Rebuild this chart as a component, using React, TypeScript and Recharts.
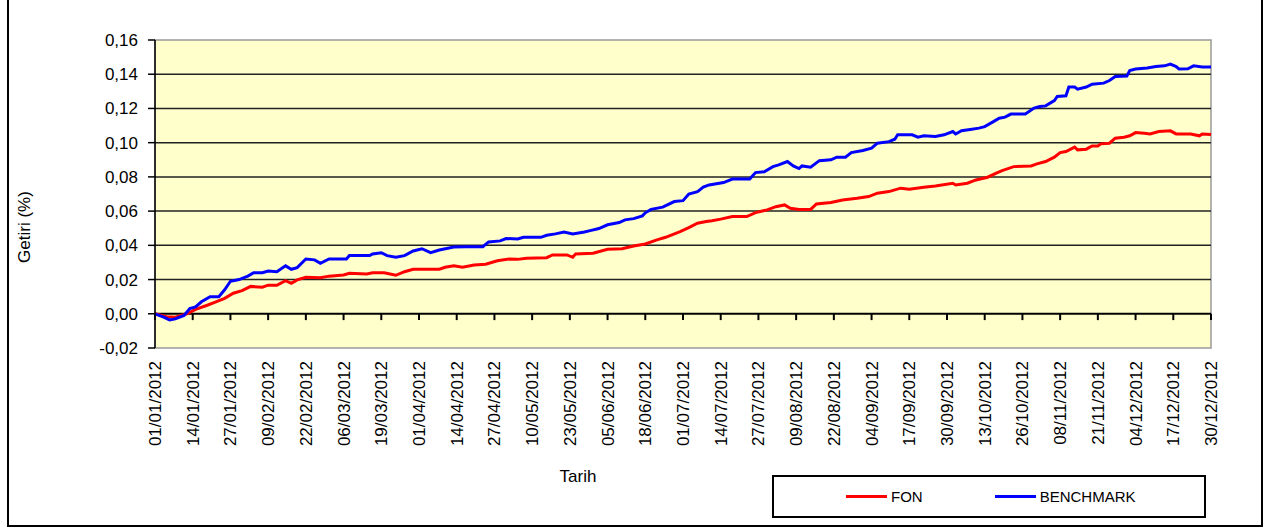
import React from 'react'
import { LineChart, Line, XAxis, YAxis, ReferenceLine, ReferenceArea, Legend } from 'recharts'

// x values are days counted from 01/01/2012
const tickLabels = [
  '01/01/2012', '14/01/2012', '27/01/2012', '09/02/2012', '22/02/2012', '06/03/2012',
  '19/03/2012', '01/04/2012', '14/04/2012', '27/04/2012', '10/05/2012', '23/05/2012',
  '05/06/2012', '18/06/2012', '01/07/2012', '14/07/2012', '27/07/2012', '09/08/2012',
  '22/08/2012', '04/09/2012', '17/09/2012', '30/09/2012', '13/10/2012', '26/10/2012',
  '08/11/2012', '21/11/2012', '04/12/2012', '17/12/2012', '30/12/2012',
]
const tickDays = tickLabels.map((_, i) => i * 13)
const yTicks = [-0.02, 0, 0.02, 0.04, 0.06, 0.08, 0.1, 0.12, 0.14, 0.16]
const gridValues = [0.14, 0.12, 0.1, 0.08, 0.06, 0.04, 0.02]
const seriesNames = ['FON', 'BENCHMARK']

const fonDays = [
  0, 4, 7, 11, 14, 18, 21, 24, 27, 30, 33, 37, 39, 42, 45, 47, 49, 52, 57, 60, 65, 67, 73, 75, 79, 83, 86, 89,
  98, 100, 103, 106, 110, 114, 118, 122, 125, 128, 135, 137, 142, 144, 145, 151, 156, 161, 165, 169, 173, 176,
  181, 184, 187, 190, 192, 195, 199, 204, 207, 211, 214, 217, 219, 222, 226, 228, 233, 237, 242, 246, 249, 253,
  257, 260, 265, 269, 275, 276, 280, 283, 287, 290, 292, 296, 302, 304, 307, 310, 312, 314, 317, 318, 321, 323,
  325, 326, 329, 331, 334, 336, 338, 341, 343, 346, 350, 352, 357, 360, 361, 364,
]
const fonValues = [
  0, -0.0017, -0.002, 0, 0.0026, 0.005, 0.007, 0.009, 0.012, 0.0135, 0.016, 0.0155, 0.0167, 0.0167, 0.0194, 0.0178, 0.0198, 0.0213, 0.021, 0.022, 0.0227, 0.0237, 0.0233, 0.024, 0.024, 0.0225, 0.0246, 0.026,
  0.026, 0.0272, 0.028, 0.0272, 0.0285, 0.029, 0.031, 0.032, 0.0318, 0.0325, 0.0328, 0.0344, 0.0344, 0.033, 0.035, 0.0354, 0.0377, 0.038, 0.0396, 0.0408, 0.0432, 0.0447,
  0.048, 0.0503, 0.0529, 0.0539, 0.0544, 0.0553, 0.0568, 0.0568, 0.0591, 0.0607, 0.0626, 0.0636, 0.0617, 0.061, 0.061, 0.0642, 0.065, 0.0665, 0.0675, 0.0685, 0.0705, 0.0714,
  0.0734, 0.0728, 0.074, 0.0747, 0.0763, 0.0753, 0.0763, 0.0782, 0.0798, 0.0822, 0.0837, 0.086, 0.0864, 0.0876, 0.089, 0.0915, 0.0942, 0.0948, 0.0974, 0.0958, 0.0962, 0.0981,
  0.098, 0.0993, 0.0997, 0.1026, 0.1032, 0.104, 0.1059, 0.1055, 0.1051, 0.1065, 0.1069, 0.1051, 0.1051, 0.104, 0.1051, 0.1048,
]

const benchDays = [
  0, 3, 5, 7, 10, 12, 14, 16, 19, 22, 24, 26, 29, 32, 34, 37, 39, 42, 45, 47, 49, 52, 55, 57, 60, 66, 67, 74, 75, 78, 80, 83, 86, 89, 92,
  95, 98, 103, 107, 113, 115, 119, 121, 125, 127, 133, 135, 138, 141, 144, 148, 150, 153, 156, 160, 162, 165, 168, 169, 171, 175, 179, 182,
  184, 187, 189, 191, 196, 199, 205, 207, 210, 213, 215, 218, 220, 222, 223, 226, 229, 233, 235, 238, 240, 244, 247, 249, 253, 255, 256, 261,
  263, 265, 269, 272, 275, 276, 278, 281, 284, 286, 289, 291, 293, 295, 300, 303, 305, 307, 310, 311, 314, 315, 317, 318, 321, 323, 327, 329,
  331, 335, 336, 338, 342, 345, 348, 350, 352, 353, 356, 358, 361, 364,
]
const benchValues = [
  0, -0.002, -0.0036, -0.003, -0.001, 0.003, 0.004, 0.007, 0.01, 0.01, 0.014, 0.019, 0.02, 0.022, 0.024, 0.024, 0.025, 0.0246, 0.028, 0.026, 0.027, 0.032, 0.0315, 0.0295, 0.032, 0.032, 0.034, 0.034, 0.035, 0.0357, 0.034, 0.033, 0.034, 0.0367, 0.038,
  0.0357, 0.0373, 0.039, 0.0392, 0.0392, 0.042, 0.0426, 0.044, 0.0437, 0.0447, 0.0447, 0.0459, 0.0467, 0.0478, 0.0467, 0.0478, 0.0486, 0.0498, 0.052, 0.0533, 0.0549, 0.0556, 0.0572, 0.059, 0.061, 0.0623, 0.0656, 0.0661,
  0.07, 0.0714, 0.074, 0.0753, 0.0767, 0.0787, 0.0787, 0.0825, 0.083, 0.086, 0.087, 0.089, 0.0864, 0.0849, 0.0864, 0.0857, 0.0895, 0.09, 0.0915, 0.0915, 0.0942, 0.0954, 0.0968, 0.0997, 0.1006, 0.102, 0.1046, 0.1046,
  0.1032, 0.104, 0.1036, 0.1046, 0.1065, 0.1051, 0.107, 0.1077, 0.1085, 0.1094, 0.1123, 0.1143, 0.1149, 0.1167, 0.1167, 0.1202, 0.1211, 0.1215, 0.1246, 0.127, 0.1274, 0.1325, 0.1325, 0.1313, 0.1325, 0.1342, 0.1348, 0.1363,
  0.1387, 0.139, 0.1422, 0.143, 0.1436, 0.1445, 0.1449, 0.1459, 0.1445, 0.143, 0.1432, 0.1449, 0.1442, 0.1442,
]

const fonData = fonDays.map((day, i) => ({ day, value: fonValues[i] }))
const benchData = benchDays.map((day, i) => ({ day, value: benchValues[i] }))

const font = '"Liberation Sans", Arial, sans-serif'
const fmt = (v: number) => v.toFixed(2).replace('.', ',')

const DateTick = (props: any) => {
  const { x, y, payload } = props
  const label = tickLabels[tickDays.indexOf(payload.value)]
  return (
    <text
      x={x}
      y={y + 13}
      dy="0.35em"
      textAnchor="end"
      transform={`rotate(-90, ${x}, ${y + 13})`}
      fontSize={17}
      fontFamily={font}
      fill="#000"
    >
      {label}
    </text>
  )
}

const renderLegend = (props: any) => {
  const items = [...props.payload].sort((a: any, b: any) => seriesNames.indexOf(a.value) - seriesNames.indexOf(b.value))
  return (
    <div
      style={{
        width: 434, height: 43, boxSizing: 'border-box', border: '2px solid #000', background: '#fff',
        display: 'flex', alignItems: 'center', fontFamily: font, fontSize: 15, color: '#000',
      }}
    >
      {items.map((p: any, i: number) => (
        <div key={p.value} style={{ display: 'flex', alignItems: 'center', marginLeft: i === 0 ? 72 : 72 }}>
          <span style={{ display: 'inline-block', width: 41, height: 3, background: p.color, marginRight: 4 }} />
          {p.value}
        </div>
      ))}
    </div>
  )
}

export default function App() {
  return (
    <div style={{ position: 'absolute', left: 0, top: 0, width: 1269, height: 527, background: '#fff' }}>
      <div style={{ position: 'absolute', left: 7, top: -2, width: 1256, height: 529, boxSizing: 'border-box', border: '2px solid #000' }} />
      <div style={{ position: 'absolute', left: 0, top: 0 }}>
        <LineChart width={1269} height={527} margin={{ top: 40, right: 58, bottom: 0, left: 0 }}>
          <XAxis
            dataKey="day"
            type="number"
            domain={[0, 364]}
            ticks={tickDays}
            interval={0}
            axisLine={false}
            tickLine={false}
            tickSize={0}
            tickMargin={0}
            height={179}
            tick={<DateTick />}
            allowDuplicatedCategory={false}
          />
          <YAxis
            type="number"
            domain={[-0.02, 0.16]}
            ticks={yTicks}
            interval={0}
            width={155}
            tickFormatter={fmt}
            tickSize={7}
            tickMargin={10}
            axisLine={{ stroke: '#000', strokeWidth: 1.5 }}
            tickLine={{ stroke: '#000', strokeWidth: 1.5 }}
            tick={{ fontSize: 17, fontFamily: font, fill: '#000' }}
          />
          <ReferenceArea x1={0} x2={364} y1={-0.02} y2={0.16} fill="#FFFFCC" fillOpacity={1} stroke="#999" strokeWidth={1.5} />
          {gridValues.map((v) => (
            <ReferenceLine key={v} y={v} stroke="#222" strokeWidth={1.5} />
          ))}
          <ReferenceLine y={0} stroke="#000" strokeWidth={2} />
          {tickDays.map((d) => (
            <ReferenceLine key={'t' + d} segment={[{ x: d, y: 0 }, { x: d, y: -0.0037 }]} stroke="#000" strokeWidth={2} />
          ))}
          <Line data={fonData} dataKey="value" name="FON" stroke="#FF0000" strokeWidth={3} dot={false} type="linear" isAnimationActive={false} />
          <Line data={benchData} dataKey="value" name="BENCHMARK" stroke="#0000FF" strokeWidth={3} dot={false} type="linear" isAnimationActive={false} />
          <Legend
            layout="horizontal"
            verticalAlign="middle"
            content={renderLegend}
            wrapperStyle={{ left: 772, top: 475, width: 434, height: 43 }}
          />
        </LineChart>
      </div>
      <div style={{ position: 'absolute', left: 578, top: 477, transform: 'translate(-50%, -50%)', fontFamily: font, fontSize: 17, color: '#000' }}>
        Tarih
      </div>
      <div style={{ position: 'absolute', left: 25, top: 227, transform: 'translate(-50%, -50%) rotate(-90deg)', fontFamily: font, fontSize: 17, color: '#000', whiteSpace: 'nowrap' }}>
        Getiri (%)
      </div>
    </div>
  )
}
